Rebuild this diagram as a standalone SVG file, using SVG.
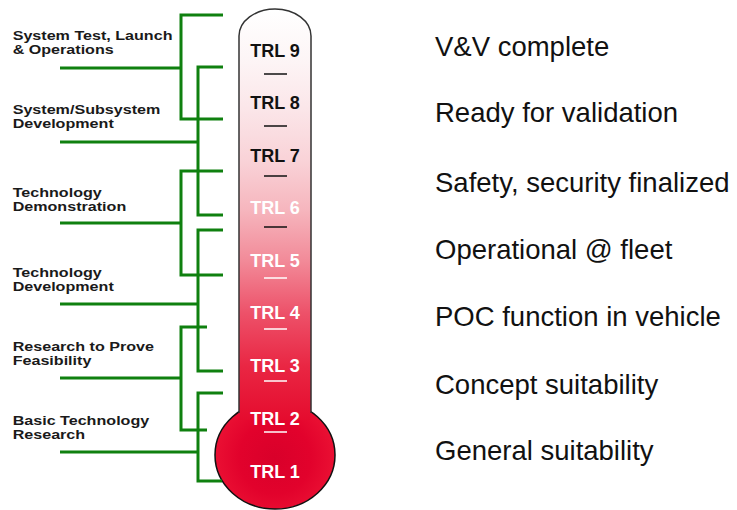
<svg xmlns="http://www.w3.org/2000/svg" width="737" height="510" viewBox="0 0 737 510">
  <defs>
    <linearGradient id="tubeGrad" gradientUnits="userSpaceOnUse" x1="0" y1="10" x2="0" y2="420">
      <stop offset="0" stop-color="#ffffff"/>
      <stop offset="0.12" stop-color="#fdf5f6"/>
      <stop offset="0.24" stop-color="#fbe6e9"/>
      <stop offset="0.37" stop-color="#f9d2d7"/>
      <stop offset="0.49" stop-color="#f6b5bd"/>
      <stop offset="0.61" stop-color="#f28b99"/>
      <stop offset="0.74" stop-color="#ed5169"/>
      <stop offset="0.87" stop-color="#e92643"/>
      <stop offset="1" stop-color="#e50c2e"/>
    </linearGradient>
    <radialGradient id="bulbGrad" cx="275" cy="458" r="60" gradientUnits="userSpaceOnUse">
      <stop offset="0" stop-color="#d9002a"/>
      <stop offset="0.6" stop-color="#e2022c"/>
      <stop offset="1" stop-color="#ea1033"/>
    </radialGradient>
  </defs>
  <style>
    .grn { stroke: #0f800f; stroke-width: 3; fill: none; stroke-linecap: butt; }
    .lbl { font-family: "Liberation Sans", Arial, sans-serif; font-weight: bold; font-size: 13px; fill: #1a1a1a; }
    .trl { font-family: "Liberation Sans", Arial, sans-serif; font-weight: bold; font-size: 18px; text-anchor: middle; }
    .dk { fill: #111111; }
    .wt { fill: #ffffff; }
    .dash-dk { stroke: #111111; stroke-width: 1.5; }
    .dash-wt { stroke: #ffffff; stroke-width: 1.5; }
    .rt { font-family: "Liberation Sans", Arial, sans-serif; font-size: 27.5px; fill: #111111; }
  </style>
  <rect x="0" y="0" width="737" height="510" fill="#ffffff"/>

  <!-- Thermometer -->
  <g id="thermometer">
    <ellipse cx="275" cy="455" rx="60" ry="54" fill="url(#bulbGrad)" stroke="#111111" stroke-width="1.5"/>
    <path d="M239,420 L239,36 A36,27 0 0 1 311,36 L311,420 Z" fill="url(#tubeGrad)"/>
    <path d="M239,413 L239,36 A36,27 0 0 1 311,36 L311,413" fill="none" stroke="#333333" stroke-width="1.5"/>
  </g>

  <!-- TRL levels -->
  <g id="trl-levels">
    <text class="trl dk" x="275" y="56.5">TRL 9</text>
    <text class="trl dk" x="275" y="109">TRL 8</text>
    <text class="trl dk" x="275" y="161.5">TRL 7</text>
    <text class="trl wt" x="275" y="214">TRL 6</text>
    <text class="trl wt" x="275" y="266.5">TRL 5</text>
    <text class="trl wt" x="275" y="319">TRL 4</text>
    <text class="trl wt" x="275" y="371.5">TRL 3</text>
    <text class="trl wt" x="275" y="424.5">TRL 2</text>
    <text class="trl wt" x="275" y="477.5">TRL 1</text>
    <line class="dash-dk" x1="264" y1="74" x2="287" y2="74"/>
    <line class="dash-dk" x1="264" y1="126" x2="287" y2="126"/>
    <line class="dash-dk" x1="264" y1="176" x2="287" y2="176"/>
    <line class="dash-dk" x1="264" y1="227" x2="287" y2="227"/>
    <line class="dash-wt" x1="264" y1="278" x2="287" y2="278"/>
    <line class="dash-wt" x1="264" y1="329" x2="287" y2="329"/>
    <line class="dash-wt" x1="264" y1="381" x2="287" y2="381"/>
    <line class="dash-wt" x1="264" y1="432" x2="287" y2="432"/>
  </g>

  <!-- Connectors -->
  <g id="connectors">
    <path class="grn" d="M223,15 H181 V119 H223"/>
    <path class="grn" d="M60,68 H181"/>
    <path class="grn" d="M223,67 H198 V215 H223"/>
    <path class="grn" d="M60,142 H198"/>
    <path class="grn" d="M223,171 H181 V275 H223"/>
    <path class="grn" d="M60,223 H181"/>
    <path class="grn" d="M223,230 H198 V371 H223"/>
    <path class="grn" d="M60,304 H198"/>
    <path class="grn" d="M207,327 H181 V430 H207"/>
    <path class="grn" d="M60,378 H181"/>
    <path class="grn" d="M223,393 H198 V481 H222"/>
    <path class="grn" d="M60,452 H198"/>
  </g>

  <!-- Left phase labels -->
  <g transform="scale(1.24 1)">
    <g id="label-system-test">
      <text class="lbl" x="10.2" y="40.5">System Test, Launch</text>
      <text class="lbl" x="10.2" y="54.5">&amp; Operations</text>
    </g>
    <g id="label-system-dev">
      <text class="lbl" x="10.2" y="114">System/Subsystem</text>
      <text class="lbl" x="10.2" y="128.5">Development</text>
    </g>
    <g id="label-tech-demo">
      <text class="lbl" x="10.2" y="197">Technology</text>
      <text class="lbl" x="10.2" y="211">Demonstration</text>
    </g>
    <g id="label-tech-dev">
      <text class="lbl" x="10.2" y="277">Technology</text>
      <text class="lbl" x="10.2" y="291">Development</text>
    </g>
    <g id="label-research-prove">
      <text class="lbl" x="10.2" y="351">Research to Prove</text>
      <text class="lbl" x="10.2" y="365">Feasibility</text>
    </g>
    <g id="label-basic-research">
      <text class="lbl" x="10.2" y="425">Basic Technology</text>
      <text class="lbl" x="10.2" y="439">Research</text>
    </g>
  </g>

  <!-- Right descriptions -->
  <g id="desc-trl9"><text class="rt" x="435" y="56">V&amp;V complete</text></g>
  <g id="desc-trl8"><text class="rt" x="435" y="122">Ready for validation</text></g>
  <g id="desc-trl7"><text class="rt" x="435" y="192">Safety, security finalized</text></g>
  <g id="desc-trl5"><text class="rt" x="435" y="259">Operational @ fleet</text></g>
  <g id="desc-trl4"><text class="rt" x="435" y="326">POC function in vehicle</text></g>
  <g id="desc-trl3"><text class="rt" x="435" y="394">Concept suitability</text></g>
  <g id="desc-trl2"><text class="rt" x="435" y="460">General suitability</text></g>
</svg>
